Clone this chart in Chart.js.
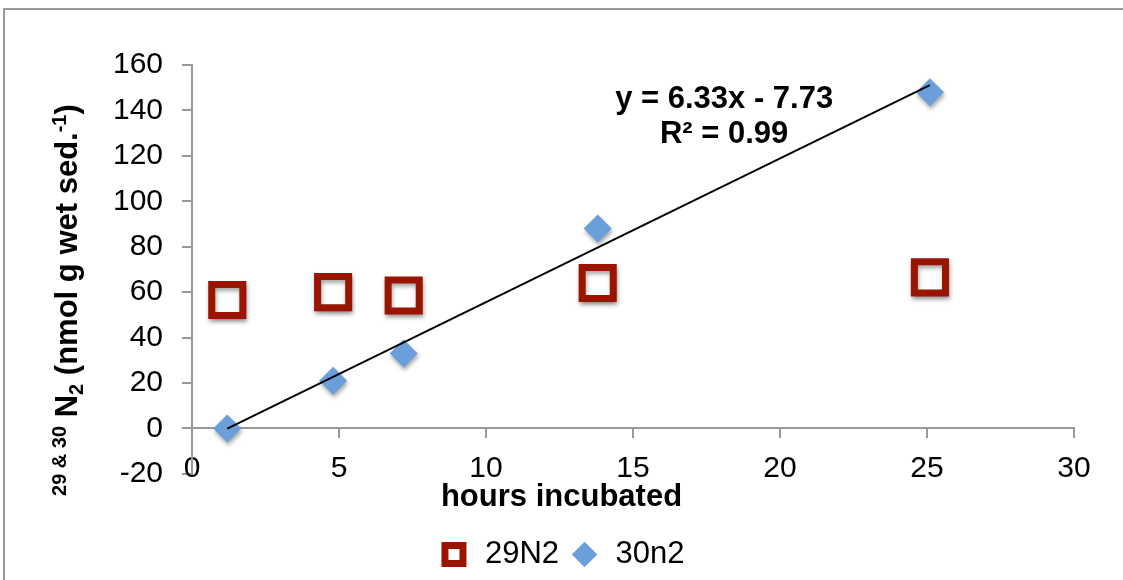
<!DOCTYPE html>
<html>
<head>
<meta charset="utf-8">
<script src="https://cdn.jsdelivr.net/npm/chart.js@4.4.1/dist/chart.umd.min.js"></script>
<style>
  html, body { margin: 0; padding: 0; background: #fff; }
  #wrap { width: 1123px; height: 580px; }
</style>
</head>
<body>
<div id="wrap"><canvas id="chart" width="1123" height="580"></canvas></div>
<script>
// values
const hours = [1.2, 4.8, 7.2, 13.8, 25.1];
const n29 = [56.5, 60, 58.5, 64, 66.5];
const n30 = [0, 21, 33, 88, 148];
const slope = 6.33;
const intercept = -7.73;
const yTicks = [-20, 0, 20, 40, 60, 80, 100, 120, 140, 160];
const xTicks = [0, 5, 10, 15, 20, 25, 30];

const FONT = "'Liberation Sans', Arial, sans-serif";
const GREY = "#999999";

const toPoints = (xs, ys) => xs.map((x, i) => ({ x: x, y: ys[i] }));
const trendX = [hours[0], hours[hours.length - 1]];
const trendPts = trendX.map((x) => ({ x: x, y: slope * x + intercept }));

// frame, marker shadows, y title and the fit equation
const decorations = {
  id: "decorations",
  beforeDraw(chart) {
    const ctx = chart.ctx;
    ctx.save();
    ctx.fillStyle = "#fff";
    ctx.fillRect(0, 0, chart.width, chart.height);
    ctx.strokeStyle = GREY;
    ctx.lineWidth = 2;
    ctx.beginPath();
    ctx.moveTo(4, chart.height);
    ctx.lineTo(4, 9);
    ctx.lineTo(chart.width, 9);
    ctx.stroke();
    ctx.restore();
  },
  beforeDatasetDraw(chart, args) {
    const ds = chart.data.datasets[args.index];
    chart.ctx.save();
    if (ds.shadow) {
      chart.ctx.shadowColor = "rgba(0,0,0,0.35)";
      chart.ctx.shadowBlur = 4;
      chart.ctx.shadowOffsetX = 1;
      chart.ctx.shadowOffsetY = 3;
    }
  },
  afterDatasetDraw(chart) {
    chart.ctx.restore();
  },
  afterDraw(chart) {
    const ctx = chart.ctx;
    const xs = chart.scales.x;
    const ys = chart.scales.y;
    const area = chart.chartArea;
    ctx.save();
    ctx.fillStyle = "#000";
    ctx.font = "bold 31px " + FONT;
    ctx.textAlign = "center";
    ctx.textBaseline = "alphabetic";

    // fit equation
    const ex = xs.getPixelForValue(18.1);
    ctx.fillText("y = 6.33x - 7.73", ex, ys.getPixelForValue(145.8) + 11);
    ctx.fillText("R² = 0.99", ex, ys.getPixelForValue(130.4) + 11);

    // y axis title with super/subscripts
    const parts = [
      { t: "29 & 30", s: 20, dy: -11 },
      { t: " N", s: 31, dy: 0 },
      { t: "2", s: 20, dy: 6 },
      { t: " (nmol g wet sed.", s: 31, dy: 0 },
      { t: "-1", s: 20, dy: -11 },
      { t: ")", s: 31, dy: 0 },
    ];
    let total = 0;
    parts.forEach((p) => {
      ctx.font = "bold " + p.s + "px " + FONT;
      p.w = ctx.measureText(p.t).width;
      total += p.w;
    });
    ctx.translate(77, area.top + area.height * 0.575);
    ctx.rotate(-Math.PI / 2);
    ctx.textAlign = "left";
    let cx = -total / 2;
    parts.forEach((p) => {
      ctx.font = "bold " + p.s + "px " + FONT;
      ctx.fillText(p.t, cx, p.dy);
      cx += p.w;
    });
    ctx.restore();
  },
};

new Chart(document.getElementById("chart"), {
  type: "scatter",
  data: {
    datasets: [
      {
        label: "29N2",
        data: toPoints(hours, n29),
        pointStyle: "rect",
        pointRadius: 22,
        pointHoverRadius: 22,
        borderWidth: 7,
        borderColor: "#991500",
        backgroundColor: "#ffffff",
        shadow: true,
        order: 2,
      },
      {
        label: "30n2",
        data: toPoints(hours, n30),
        pointStyle: "rectRot",
        pointRadius: 14,
        pointHoverRadius: 14,
        borderWidth: 0,
        borderColor: "#6a9fdc",
        backgroundColor: "#6a9fdc",
        shadow: true,
        order: 1,
      },
      {
        label: "trend",
        data: trendPts,
        showLine: true,
        borderColor: "#000",
        borderWidth: 2,
        pointRadius: 0,
        fill: false,
        order: 0,
      },
    ],
  },
  options: {
    responsive: false,
    animation: false,
    layout: {
      padding: { top: 65, right: 0, left: 0, bottom: 0 },
    },
    plugins: {
      tooltip: { enabled: false },
      title: {
        display: true,
        text: "hours incubated",
        position: "bottom",
        weight: 500,
        color: "#000",
        font: { family: FONT, size: 31, weight: "bold" },
        padding: { top: 5, bottom: 13 },
      },
      legend: {
        position: "bottom",
        labels: {
          usePointStyle: true,
          boxHeight: 18,
          padding: 10,
          color: "#000",
          font: { family: FONT, size: 31 },
          filter: (item) => item.text !== "trend",
          sort: (a, b) => a.datasetIndex - b.datasetIndex,
        },
      },
    },
    scales: {
      x: {
        type: "linear",
        position: { y: 0 },
        min: 0,
        max: 30,
        afterBuildTicks: (scale) => {
          scale.ticks = xTicks.map((v) => ({ value: v }));
        },
        border: { display: true, color: GREY, width: 2 },
        grid: {
          drawOnChartArea: false,
          drawTicks: true,
          tickLength: 9,
          tickColor: GREY,
          lineWidth: 2,
        },
        ticks: {
          padding: 13,
          color: "#000",
          font: { family: FONT, size: 30 },
        },
      },
      y: {
        min: -20,
        max: 160,
        afterBuildTicks: (scale) => {
          scale.ticks = yTicks.map((v) => ({ value: v }));
        },
        afterFit: (scale) => {
          scale.width = 192;
        },
        border: { display: true, color: GREY, width: 2 },
        grid: {
          drawOnChartArea: false,
          lineWidth: 2,
          tickColor: GREY,
          tickLength: 10,
        },
        ticks: {
          padding: 19,
          color: "#000",
          font: { family: FONT, size: 30 },
        },
      },
      // empty right-hand margin, keeps the plot edge at x = 30 where the reference has it
      margin: {
        type: "linear",
        position: "right",
        afterFit: (scale) => {
          scale.width = 49;
        },
        border: { display: false },
        grid: { display: false },
        ticks: { display: false },
      },
    },
  },
  plugins: [decorations],
});
</script>
</body>
</html>
